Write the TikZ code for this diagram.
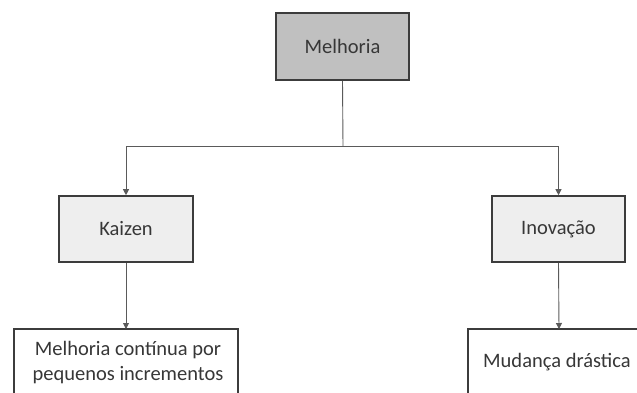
\documentclass[tikz,border=0pt]{standalone}
\usepackage{fontspec}
\setmainfont{Carlito}
\usetikzlibrary{arrows.meta}
\definecolor{boxline}{RGB}{60,60,60}
\definecolor{txt}{RGB}{55,55,55}
\definecolor{topfill}{RGB}{192,192,192}
\definecolor{midfill}{RGB}{238,238,238}
\definecolor{conn}{RGB}{90,90,90}
\begin{document}
\begin{tikzpicture}[x=1pt,y=-1pt,
  box/.style={draw=boxline,line width=1.6pt,text=txt,font=\fontsize{20.5}{24}\selectfont,inner sep=0pt,align=center},
  conn/.style={draw=conn,line width=0.9pt},
  arr/.style={conn,-{Triangle[length=6pt,width=6pt]}}]
\useasboundingbox (0,0) rectangle (637,392);
\clip (0,0) rectangle (637,392);
\node[box,fill=topfill,minimum width=133pt,minimum height=67pt] (mel) at (342.5,46.5) {Melhoria};
\node[box,fill=midfill,minimum width=134pt,minimum height=66pt] (kai) at (126,229) {Kaizen};
\node[box,fill=midfill,minimum width=133pt,minimum height=66pt] (ino) at (558.5,229) {Inovação};
\draw[box,fill=white] (14,329) rectangle (238,420);
\node[text=txt,font=\fontsize{20.5}{25}\selectfont,align=center,inner sep=0pt] (mc) at (128,362.5) {Melhoria contínua por\\pequenos incrementos};
\draw[box,fill=white] (468,329) rectangle (660,420);
\node[text=txt,font=\fontsize{20.5}{24}\selectfont,anchor=west,inner sep=0pt] (md) at (483,362) {Mudança drástica};
\coordinate (mctop) at (126,329);
\coordinate (mdtop) at (559,329);
\coordinate (j) at (343,146);
\draw[conn] (mel.south) -- (j);
\draw[arr] (j) -| (kai.north);
\draw[arr] (j) -| (ino.north);
\draw[arr] (kai.south) -- (mctop);
\draw[arr] (ino.south) -- (mdtop);
\end{tikzpicture}
\end{document}
